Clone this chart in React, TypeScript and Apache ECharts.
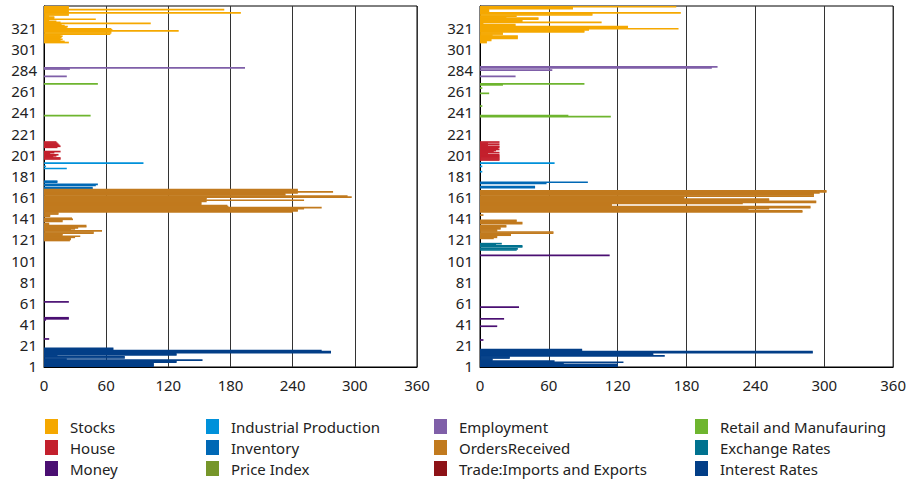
import React, { useEffect, useRef } from "react";
import * as echarts from "echarts";

// ---------- data ----------
const N_CATEGORIES = 341;
const categories = Array.from({ length: N_CATEGORIES }, (_, i) => String(i + 1));
const yTickLabels = ["1", "21", "41", "61", "81", "101", "121", "141", "161", "181", "201", "221", "241", "261", "284", "301", "321"];

const seriesNames = [
  "Stocks", "House", "Money",
  "Industrial Production", "Inventory", "Price Index",
  "Employment", "OrdersReceived", "Trade:Imports and Exports",
  "Retail and Manufauring", "Exchange Rates", "Interest Rates",
];
const seriesColors = [
  "#F5A800", "#C3202D", "#4A0F72",
  "#0091DA", "#0068B5", "#76962A",
  "#7F5FA8", "#C17A1E", "#8D1217",
  "#6EB52F", "#00728F", "#023E87",
];
const legendColumns = [
  ["Stocks", "House", "Money"],
  ["Industrial Production", "Inventory", "Price Index"],
  ["Employment", "OrdersReceived", "Trade:Imports and Exports"],
  ["Retail and Manufauring", "Exchange Rates", "Interest Rates"],
];

type Pairs = [number, number][];
const seq = (start: number, values: number[]): Pairs => values.map((v, i) => [start + i, v] as [number, number]);

// left panel
const leftInterest = seq(1, [106, 106, 106, 106, 128, 128, 153, 22, 78, 78, 13, 128, 128, 277, 277, 268, 67, 67]);
const leftMoney: Pairs = [[27, 5], [45, 2], [46, 24], [47, 24], [62, 24]];
const leftOrders = seq(120, [
  25, 26, 26, 30, 35, 18, 18, 48, 48, 56,
  26, 30, 33, 41, 41, 5, 5, 0, 18, 18,
  28, 27, 0, 6, 6, 14, 14, 240, 245, 245,
  251, 268, 178, 177, 152, 152, 152, 157, 251, 157,
  157, 297, 293, 233, 233, 245, 279, 245, 245,
]);
const leftIndustrial: Pairs = [[188, 22], [190, 2], [193, 96]];
const leftInventory: Pairs = [[169, 47], [170, 47], [172, 50], [173, 52], [175, 13], [176, 13]];
const leftHouse = seq(197, [16, 16, 9, 12, 14, 6, 10, 16, 0, 0, 0, 13, 16, 15, 14, 13, 12]);
const leftRetail: Pairs = [[238, 45], [268, 52]];
const leftEmployment: Pairs = [[275, 22], [282, 25], [283, 194]];
const leftStocks = seq(307, [
  24, 20, 16, 18, 16, 17, 18, 16, 64, 65, 65, 130, 66, 65, 22, 23, 20, 17,
  103, 16, 12, 5, 50, 10, 10, 5, 24, 24, 190, 24, 24, 174, 24, 24, 24,
]);

// right panel
const rightInterest = seq(1, [120, 120, 120, 73, 125, 65, 11, 11, 26, 26, 161, 151, 151, 290, 290, 89, 89]);
const rightMoney: Pairs = [[26, 3], [39, 15], [46, 21], [57, 34], [106, 113]];
const rightExchange: Pairs = [[111, 32], [112, 33], [114, 37], [115, 37], [116, 14], [117, 19]];
const rightOrders = seq(122, [
  12, 15, 15, 27, 27, 64, 64, 15, 15, 18,
  18, 23, 23, 0, 37, 37, 32, 32, 0, 0,
  0, 0, 3, 0, 0,
  281, 281, 234, 252, 288, 288, 115, 115, 229, 293,
  293, 252, 252, 178, 178, 291, 291, 291, 296, 302, 302,
]);
const rightIndustrial: Pairs = [[185, 2], [190, 2], [193, 65]];
const rightInventory: Pairs = [[170, 48], [171, 48], [174, 58], [175, 94]];
const rightHouse = seq(196, [17, 17, 17, 17, 17, 17, 7, 17, 12, 14, 17, 16, 17, 17, 7, 17, 7, 17]);
const rightRetail: Pairs = [[237, 114], [238, 77], [247, 2], [259, 8], [264, 2], [267, 20], [268, 91]];
const rightEmployment: Pairs = [[275, 31], [281, 63], [283, 202], [284, 207]];
const rightStocks = seq(307, [
  6, 6, 10, 10, 33, 33, 33, 11, 20, 20, 91, 91, 95, 173, 129, 129, 31, 31,
  3, 106, 37, 37, 51, 51, 23, 32, 98, 98, 175, 8, 8, 8, 81, 81, 171,
]);

const leftByName: Record<string, Pairs> = {
  "Stocks": leftStocks, "House": leftHouse, "Money": leftMoney,
  "Industrial Production": leftIndustrial, "Inventory": leftInventory, "Price Index": [],
  "Employment": leftEmployment, "OrdersReceived": leftOrders, "Trade:Imports and Exports": [],
  "Retail and Manufauring": leftRetail, "Exchange Rates": [], "Interest Rates": leftInterest,
};
const rightByName: Record<string, Pairs> = {
  "Stocks": rightStocks, "House": rightHouse, "Money": rightMoney,
  "Industrial Production": rightIndustrial, "Inventory": rightInventory, "Price Index": [],
  "Employment": rightEmployment, "OrdersReceived": rightOrders, "Trade:Imports and Exports": [],
  "Retail and Manufauring": rightRetail, "Exchange Rates": rightExchange, "Interest Rates": rightInterest,
};

const toData = (pairs: Pairs) => {
  const arr: (number | string)[] = new Array(N_CATEGORIES).fill("-");
  pairs.forEach(([c, v]) => { if (v > 0) arr[c - 1] = v; });
  return arr;
};

// ---------- component ----------
const FONT = "Noto Sans";

export default function App() {
  const ref = useRef<HTMLDivElement>(null);
  useEffect(() => {
    if (!ref.current) return;
    const chart = echarts.init(ref.current, undefined, { renderer: "svg" });

    const gridBase = { top: 6, height: 361, show: true, borderColor: "#000", borderWidth: 1, containLabel: false };
    const xAxisBase = {
      type: "value", min: 0, max: 360, interval: 60,
      axisLine: { show: true, lineStyle: { color: "#000", width: 1 } },
      axisTick: { show: false },
      splitLine: { show: true, lineStyle: { color: "#333", width: 1 } },
      axisLabel: { color: "#222", fontSize: 15, fontFamily: FONT, margin: 10 },
    };
    const yAxisBase = {
      type: "category", data: categories,
      axisLine: { show: true, lineStyle: { color: "#000", width: 1 } },
      axisTick: { show: false },
      splitLine: { show: false },
      axisLabel: {
        color: "#222", fontSize: 15, fontFamily: FONT, margin: 7, interval: 19,
        formatter: (_v: string, idx: number) => (idx % 20 === 0 && yTickLabels[idx / 20]) ? yTickLabels[idx / 20] : "",
      },
    };

    const series: any[] = [];
    [leftByName, rightByName].forEach((byName, panel) => {
      seriesNames.forEach((name, k) => {
        series.push({
          type: "bar", name, xAxisIndex: panel, yAxisIndex: panel,
          stack: panel === 0 ? "L" : "R",
          data: toData(byName[name]),
          itemStyle: { color: seriesColors[k] },
          barWidth: 1.7,
          emphasis: { disabled: true },
        });
      });
    });

    const legendLefts = [45, 206, 434, 695];
    const legends = legendColumns.map((col, i) => ({
      orient: "vertical", left: legendLefts[i], top: 419, data: col,
      padding: 0, width: 220, height: 60,
      itemWidth: 13, itemHeight: 15, itemGap: 6, icon: "rect",
      textStyle: { color: "#222", fontSize: 15, lineHeight: 15, fontFamily: FONT, padding: [0, 0, 0, 7] },
    }));

    chart.setOption({
      animation: false,
      color: seriesColors,
      grid: [
        { ...gridBase, left: 44, width: 373 },
        { ...gridBase, left: 480, width: 415 },
      ],
      xAxis: [{ ...xAxisBase, gridIndex: 0 }, { ...xAxisBase, gridIndex: 1 }],
      yAxis: [{ ...yAxisBase, gridIndex: 0 }, { ...yAxisBase, gridIndex: 1 }],
      legend: legends,
      series,
    });
    return () => chart.dispose();
  }, []);
  return <div ref={ref} style={{ position: "fixed", left: 0, top: 0, width: 909, height: 479, background: "#fff" }} />;
}
